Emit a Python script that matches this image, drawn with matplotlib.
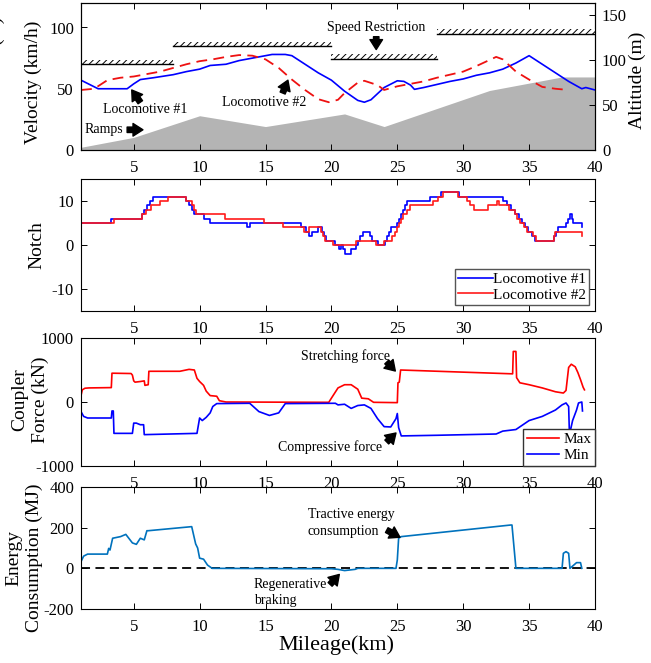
import matplotlib
matplotlib.use('Agg')
import matplotlib.pyplot as plt

plt.rcParams['font.family'] = ['Liberation Serif', 'DejaVu Serif']
plt.rcParams['hatch.linewidth'] = 0.7
plt.rcParams['axes.linewidth'] = 0.8
plt.rcParams['axes.unicode_minus'] = False

# ---- panel 1: velocity, altitude, speed limits ----
km_v1 = [1, 2.3, 4.5, 5.0, 5.5, 6.5, 8, 9, 10, 10.8, 12, 13, 14.5, 15.5, 16.5, 17, 18, 19, 20, 21, 22,
         22.5, 23, 24, 25, 25.5, 26, 26.3, 27, 28, 29, 30, 31, 32, 33, 34, 35, 35.5, 36, 37, 38, 39, 39.3, 40]
vel_loco1 = [57, 50, 50, 54, 57.5, 59, 61.5, 64, 66, 69, 70, 73, 76, 78, 78, 77, 70, 63, 57, 48, 40.5,
             39, 41, 51, 56.5, 56, 53, 49.5, 51, 53.5, 56, 58, 61, 63, 66, 71, 77, 73.5, 70, 63, 56, 50, 51, 49]
km_v2 = [1, 2, 3, 4, 5, 6, 7, 8, 9, 10, 11, 12, 13, 14, 15, 16, 17, 18, 19, 19.8, 20.5, 21, 22, 22.5,
         23.5, 24, 25, 26, 27, 28, 29, 30, 31, 32, 32.5, 33, 34, 35, 36, 37, 38]
vel_loco2 = [49, 50, 57, 59, 60, 62, 64, 67, 70, 72.5, 74, 76, 77.5, 77, 74, 67, 57.5, 49, 41.5, 39, 41,
             46.5, 55, 56.5, 53, 49, 52, 54, 56, 59, 61.5, 64, 68.5, 73.5, 76, 74, 64, 57.5, 51.5, 50, 49]
km_alt = [1, 5, 10, 15, 21, 24, 32, 37.5, 40]
altitude = [3, 14, 38, 26, 40, 26, 66, 81, 81]
limit_start = [1, 8, 20, 28]
limit_end = [8, 20, 28, 40]
limit_low = [70, 85, 74.5, 95]
limit_high = [73.5, 88.5, 78, 98.5]

# ---- panel 2: notch (step changes) ----
notch1_km = [1, 3.3, 5.6, 5.8, 6.0, 6.2, 6.5, 9.0, 9.2, 9.4, 9.6, 10.3, 10.8, 13.6, 13.8, 17.7, 18.1, 18.3,
             18.5, 19.0, 19.3, 19.45, 19.6, 20.3, 20.6, 20.75, 20.9, 21.05, 21.5, 21.9, 22.05, 22.2, 22.4,
             22.9, 23.1, 23.5, 24.05, 24.2, 24.35, 24.5, 24.95, 25.1, 25.25, 25.4, 25.55, 25.7, 27.5, 28.3,
             29.7, 33.0, 33.3, 33.6, 33.9, 34.2, 34.45, 34.7, 34.95, 35.2, 35.45, 36.9, 37.05, 37.2, 37.8,
             37.95, 38.1, 38.25, 38.35, 39.0, 39.05]
notch1 = [5, 6, 7, 8, 9, 10, 11, 10, 9, 8, 7, 6, 5, 4, 5, 4, 3, 2,
          3, 4, 3, 2, 1, 0, -1, 0, -1, -2, -1, 0, 1, 2, 3,
          2, 1, 0, 1, 2, 3, 4, 5, 6, 7, 8, 9, 10, 11, 12,
          11, 10, 9, 8, 7, 6, 5, 4, 3, 2, 1, 2, 3, 4, 5,
          6, 7, 6, 5, 4, 4]
notch2_km = [1, 3.5, 5.6, 5.9, 6.3, 7.0, 7.6, 9.0, 9.4, 9.55, 9.7, 11.9, 14.9, 16.3, 17.9, 18.3, 19.2,
             19.35, 19.5, 20.1, 21.9, 23.4, 24.0, 24.6, 24.8, 24.95, 25.15, 25.3, 25.45, 25.7, 26.0, 27.7,
             28.1, 28.5, 29.6, 30.3, 30.55, 30.8, 31.9, 32.6, 32.75, 33.5, 33.9, 34.1, 34.3, 34.6, 34.85,
             35.3, 35.5, 36.9, 37.0, 39.0, 39.05]
notch2 = [5, 6, 7, 8, 9, 10, 11, 10, 9, 8, 7, 6, 5, 4, 3, 4, 3,
          2, 1, 0, 1, 0, 1, 2, 3, 4, 5, 6, 7, 8, 9, 10,
          11, 12, 11, 10, 9, 8, 9, 10, 9, 8, 7, 6, 5, 4, 3,
          2, 1, 2, 3, 2, 2]

# ---- panel 3: coupler force ----
fmax_km = [1.0, 1.1, 1.3, 1.6, 3.3, 3.35, 4.8, 4.9, 5.0, 5.1, 5.5, 5.8, 5.85, 6.1, 6.15, 8.5, 9.2, 9.6,
           9.8, 10.0, 10.3, 10.5, 10.8, 11.3, 11.5, 12.0, 19.8, 20.0, 20.5, 21.0, 21.5, 22.0, 22.3, 22.8,
           23.2, 25.0, 25.05, 25.15, 25.25, 33.75, 33.8, 34.0, 34.05, 34.3, 35.0, 36.0, 37.0, 37.6, 37.8,
           38.0, 38.2, 38.5, 38.7, 38.9, 39.1, 39.2]
fmax = [100, 190, 215, 220, 225, 450, 445, 420, 330, 310, 320, 330, 260, 270, 480, 480, 510, 500,
        370, 320, 260, 170, 100, 90, 20, 0, -5, 60, 220, 270, 270, 200, 60, 50,
        -5, -10, 300, 310, 500, 440, 790, 790, 380, 300, 270, 220, 160, 140, 180,
        540, 590, 550, 460, 350, 230, 190]
fmin_km = [1.0, 1.2, 1.5, 3.3, 3.35, 3.45, 3.5, 4.9, 5.0, 5.2, 5.5, 5.75, 5.8, 9.8, 10.0, 10.2, 10.5,
           10.8, 11.0, 11.3, 13.8, 14.5, 15.3, 16.0, 16.5, 20.3, 20.5, 21.0, 21.5, 22.0, 22.5, 23.0,
           23.5, 24.0, 24.5, 24.9, 25.0, 25.1, 25.3, 28.0, 32.5, 33.0, 34.0, 35.0, 36.0, 37.0, 37.5,
           37.8, 38.0, 38.05, 38.15, 38.3, 38.6, 38.75, 39.0, 39.05]
fmin = [-150, -225, -250, -250, -140, -140, -490, -490, -330, -330, -355, -355, -510, -490, -250, -290,
        -240, -170, -70, -25, -20, -150, -210, -170, -25, -20, -45, -35, -100, -55, -45, -100,
        -260, -385, -390, -260, -180, -400, -530, -520, -500, -455, -430, -290, -225, -125, -45,
        -15, -70, -430, -430, -290, -125, -15, 0, -140]

# ---- panel 4: energy ----
energy_km = [1.0, 1.2, 1.5, 3.0, 3.1, 3.2, 3.4, 4.0, 4.4, 4.9, 5.2, 5.5, 5.8, 6.0, 6.1, 9.4, 9.7, 9.85,
             10.0, 10.3, 10.6, 10.95, 20.0, 20.5, 21.0, 21.8, 22.0, 24.9, 25.0, 25.1, 25.3, 33.6, 33.7,
             34.0, 37.5, 37.6, 37.8, 38.0, 38.1, 38.3, 38.6, 38.9, 39.0]
energy = [33, 60, 70, 70, 98, 90, 148, 156, 167, 125, 118, 148, 140, 185, 185, 205, 120, 100,
          50, 45, 16, 0, -2, -5, -11, -5, 0, 0, 41, 148, 156, 213, 213,
          0, 0, 74, 82, 74, 0, 11, 28, 28, 0]

xticks = [5, 10, 15, 20, 25, 30, 35, 40]
W, H = 651, 663
fig = plt.figure(figsize=(W / 100, H / 100), dpi=100)


def px_axes(top, bottom):
    return fig.add_axes([81 / W, 1 - bottom / H, 514 / W, (bottom - top) / H])


def style(ax, right=True):
    ax.set_xlim(1, 40)
    ax.set_xticks(xticks)
    ax.tick_params(direction='in', top=True, right=right, labelsize=12, length=4, width=0.7)
    ax.tick_params(axis='x', pad=7)
    ax.tick_params(axis='y', pad=5)


arrow = dict(arrowstyle='simple,head_length=0.55,head_width=0.7,tail_width=0.3',
             fc='black', ec='black', mutation_scale=13, shrinkA=0, shrinkB=0)

# panel 1
ax1 = px_axes(3, 150)
ax1b = ax1.twinx()
ax1.set_zorder(ax1b.get_zorder() + 1)
ax1.patch.set_visible(False)
ax1b.fill_between(km_alt, 0, altitude, color='#b4b4b4', lw=0)
ax1b.set_ylim(0, 163)
ax1b.set_yticks([0, 50, 100, 150])
ax1b.tick_params(direction='in', labelsize=12, length=4, width=0.7, pad=5)
for x0, x1, lo, hi in zip(limit_start, limit_end, limit_low, limit_high):
    ax1.fill_between([x0, x1], lo, hi, facecolor='white', edgecolor='black', hatch='/////', lw=0)
    ax1.plot([x0, x1], [lo, lo], color='black', lw=1.0)
ax1.plot(km_v1, vel_loco1, color='#0000ff', lw=1.2)
ax1.plot(km_v2, vel_loco2, color='#ee1111', lw=1.3, ls=(0, (6, 3.5)))
ax1.set_ylim(0, 120)
ax1.set_yticks([0, 50, 100])
style(ax1, right=False)
ax1.text(5.9, 32.8, 'Locomotive #1', ha='center', va='center', fontsize=10)
ax1.annotate('', xy=(4.85, 49), xytext=(5.5, 39), arrowprops=arrow)
ax1.text(14.9, 39, 'Locomotive #2', ha='center', va='center', fontsize=10)
ax1.annotate('', xy=(16.7, 57), xytext=(16.3, 46.5), arrowprops=arrow)
ax1.text(2.75, 17, 'Ramps', ha='center', va='center', fontsize=10)
ax1.annotate('', xy=(5.7, 16.5), xytext=(4.5, 16.5), arrowprops=arrow)
ax1.text(23.4, 100, 'Speed Restriction', ha='center', va='center', fontsize=10)
ax1.annotate('', xy=(23.4, 82), xytext=(23.4, 92.5), arrowprops=arrow)
fig.text(33 / W, 1 - 82 / H, 'Velocity (km/h)', rotation=90, ha='center', va='center', fontsize=14)
# second label line that sits mostly off the left edge in the original
fig.text(-4 / W, 1 - 65 / H, 'Altitude (m)', rotation=90, ha='center', va='center', fontsize=14)
fig.text(637 / W, 1 - 80 / H, 'Altitude (m)', rotation=90, ha='center', va='center', fontsize=14)

# panel 2
ax2 = px_axes(179, 311)
ax2.plot(notch1_km, notch1, color='#0000ff', lw=1.2, drawstyle='steps-post', label='Locomotive #1')
ax2.plot(notch2_km, notch2, color='#ff1a1a', lw=1.2, drawstyle='steps-post', label='Locomotive #2')
ax2.set_ylim(-15, 15)
ax2.set_yticks([-10, 0, 10])
style(ax2)
leg = ax2.legend(loc='lower right', fontsize=11, fancybox=False, framealpha=1, handlelength=2.3,
                 borderaxespad=0.4, borderpad=0.2, labelspacing=0.15, handletextpad=0.0)
leg.get_frame().set_edgecolor('#555555')
leg.get_frame().set_linewidth(1.0)
fig.text(37 / W, 1 - 245 / H, 'Notch', rotation=90, ha='center', va='center', fontsize=14)

# panel 3
ax3 = px_axes(338, 466)
ax3.plot(fmax_km, fmax, color='#ff0000', lw=1.2, label='Max')
ax3.plot(fmin_km, fmin, color='#0000ff', lw=1.2, label='Min')
ax3.set_ylim(-1000, 1000)
ax3.set_yticks([-1000, 0, 1000])
style(ax3)
leg = ax3.legend(loc='lower right', fontsize=11, fancybox=False, framealpha=1, handlelength=2.1,
                 borderaxespad=0, borderpad=0.25, labelspacing=0.15, handletextpad=0.3)
leg.get_frame().set_edgecolor('#333333')
leg.get_frame().set_linewidth(1.0)
ax3.text(21.1, 720, 'Stretching force', ha='center', va='center', fontsize=10)
ax3.annotate('', xy=(24.85, 484), xytext=(24.2, 625), arrowprops=arrow)
ax3.text(19.9, -700, 'Compressive force', ha='center', va='center', fontsize=10)
ax3.annotate('', xy=(24.9, -484), xytext=(24.2, -625), arrowprops=arrow)
fig.text(30 / W, 1 - 400 / H, 'Coupler\nForce (kN)', rotation=90, ha='center', va='center',
         fontsize=14, linespacing=1.25)

# panel 4
ax4 = px_axes(487, 609)
ax4.plot([1, 40], [0, 0], color='black', lw=1.3, ls=(0, (5, 3)))
ax4.plot(energy_km, energy, color='#0072bd', lw=1.2)
ax4.set_ylim(-200, 400)
ax4.set_yticks([-200, 0, 200, 400])
style(ax4)
ax4.text(18.2, 222, 'Tractive energy\nconsumption', ha='left', va='center', fontsize=10, linespacing=1.35)
ax4.annotate('', xy=(25.2, 153), xytext=(24.2, 188), arrowprops=arrow)
ax4.text(14.1, -118, 'Regenerative\nbraking', ha='left', va='center', fontsize=10, linespacing=1.35)
ax4.annotate('', xy=(20.6, -30), xytext=(19.9, -79), arrowprops=arrow)
fig.text(24 / W, 1 - 558 / H, 'Energy\nConsumption (MJ)', rotation=90, ha='center', va='center',
         fontsize=14, linespacing=1.25)
fig.text(336 / W, 1 - 645 / H, 'Mileage(km)', ha='center', va='center', fontsize=16)

fig.savefig('out.png', dpi=100)
